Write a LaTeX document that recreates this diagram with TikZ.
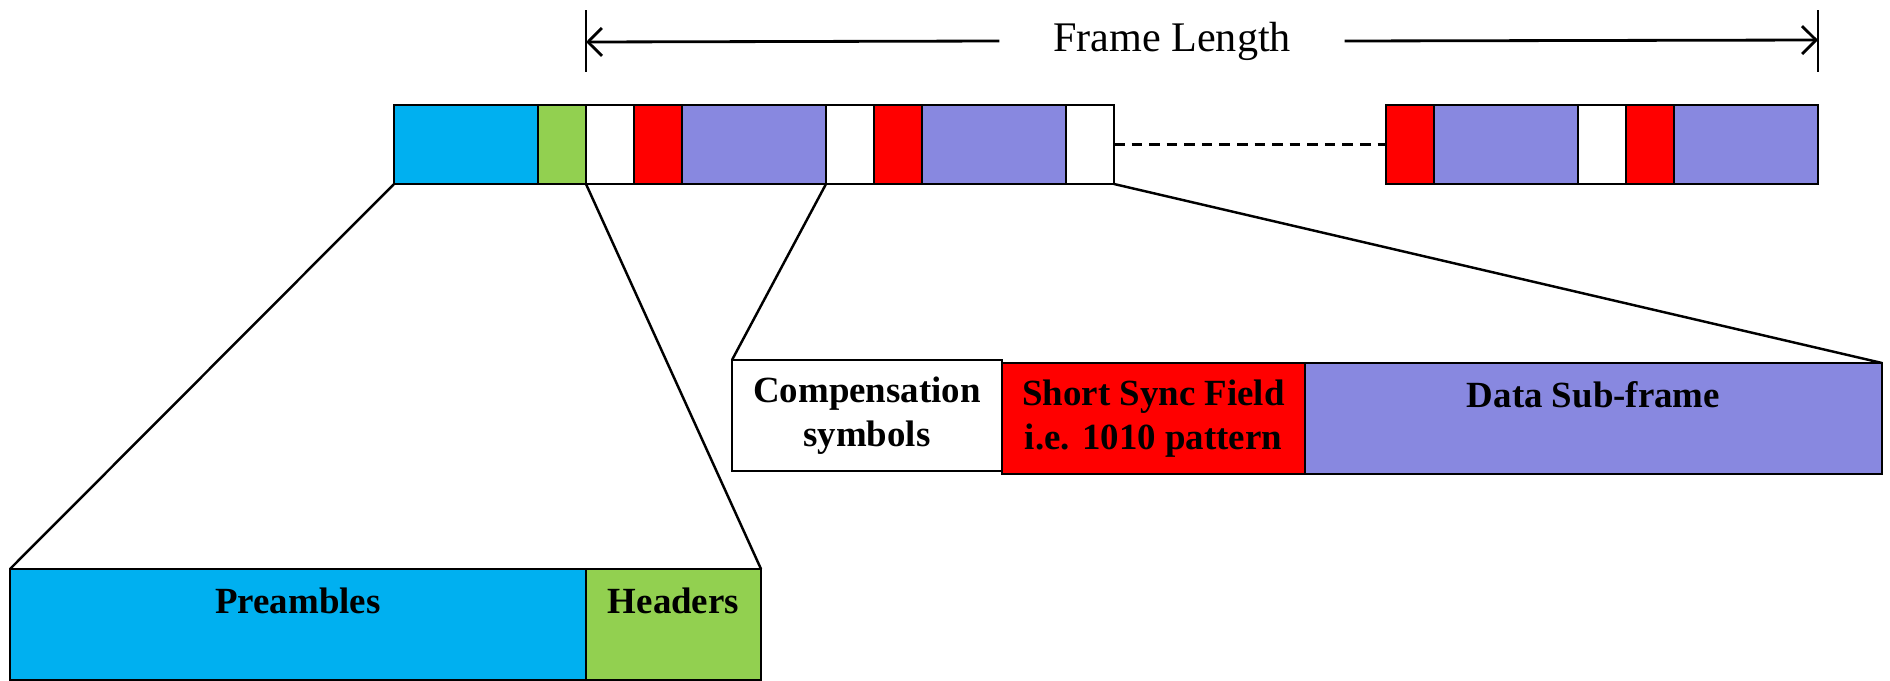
\documentclass[tikz,border=0pt]{standalone}
\usepackage{fontspec}
\setmainfont{Liberation Serif}
\usetikzlibrary{arrows.meta}
\definecolor{preblue}{RGB}{0,176,240}
\definecolor{hdrgreen}{RGB}{146,208,80}
\definecolor{syncred}{RGB}{255,0,0}
\definecolor{datapurple}{RGB}{136,136,224}

\begin{document}
\begin{tikzpicture}[
    cell/.style={draw, line width=0.7pt, outer sep=0pt, inner sep=0pt, minimum height=0.79cm, anchor=west},
    small/.style={cell, minimum width=0.48cm},
    big/.style={cell, minimum width=1.44cm},
    box/.style={draw, line width=0.7pt, outer sep=0pt, anchor=north west, minimum height=1.11cm,
                align=center, font=\fontsize{10.5}{12.4}\selectfont\bfseries},
    toplbl/.style={anchor=north, yshift=-0.06cm, font=\fontsize{10.5}{12.4}\selectfont\bfseries},
    zoomline/.style={line width=0.7pt},
  ]
  \useasboundingbox (0,0) rectangle (18.90,-6.81);

  % Frame length
  \coordinate (fl-a) at (5.86,-0.42);
  \coordinate (fl-b) at (18.18,-0.40);
  \draw[line width=0.8pt] (5.86,-0.10) -- (5.86,-0.72);
  \draw[line width=0.8pt] (18.18,-0.10) -- (18.18,-0.72);
  \node[inner xsep=0.53cm, font=\fontsize{12}{14}\selectfont] (flen) at (11.72,-0.41) {Frame Length};
  \draw[line width=0.8pt, -{Straight Barb[length=0.14cm,width=0.28cm]}] (flen.west) -- (fl-a);
  \draw[line width=0.8pt, -{Straight Barb[length=0.14cm,width=0.28cm]}] (flen.east) -- (fl-b);

  % Frame
  \node[big, fill=preblue] (pre) at (3.94,-1.445) {};
  \node[small, fill=hdrgreen] (hdr) at (5.38,-1.445) {};
  \node[small, fill=white] (c1) at (5.86,-1.445) {};
  \node[small, fill=syncred] (s1) at (6.34,-1.445) {};
  \node[big, fill=datapurple] (d1) at (6.82,-1.445) {};
  \node[small, fill=white] (c2) at (8.26,-1.445) {};
  \node[small, fill=syncred] (s2) at (8.74,-1.445) {};
  \node[big, fill=datapurple] (d2) at (9.22,-1.445) {};
  \node[small, fill=white] (c3) at (10.66,-1.445) {};

  \node[small, fill=syncred] (s3) at (13.86,-1.445) {};
  \node[big, fill=datapurple] (d3) at (14.34,-1.445) {};
  \node[small, fill=white] (c4) at (15.78,-1.445) {};
  \node[small, fill=syncred] (s4) at (16.26,-1.445) {};
  \node[big, fill=datapurple] (d4) at (16.74,-1.445) {};

  \draw[line width=0.7pt, dash pattern=on 3pt off 2pt] (c3.east) -- (s3.west);

  % Sub-frame detail
  \node[box, minimum width=2.70cm, fill=white] (comp) at (7.32,-3.60) {Compensation\\symbols};
  \node[box, minimum width=3.03cm, fill=syncred] (sync) at (10.02,-3.63) {Short Sync Field\\i.e. 1010 pattern};
  \node[box, minimum width=5.77cm, fill=datapurple, label={[toplbl]north:Data Sub-frame}] (data) at (13.05,-3.63) {};

  % Preamble and header detail
  \node[box, minimum width=5.76cm, fill=preblue, label={[toplbl]north:Preambles}] (preambles) at (0.10,-5.69) {};
  \node[box, minimum width=1.75cm, fill=hdrgreen, label={[toplbl]north:Headers}] (headers) at (5.86,-5.69) {};

  \draw[zoomline] (pre.south west) -- (preambles.north west);
  \draw[zoomline] (hdr.south east) -- (headers.north east);
  \draw[zoomline] (c2.south west) -- (comp.north west);
  \draw[zoomline] (c3.south east) -- (data.north east);
\end{tikzpicture}
\end{document}
